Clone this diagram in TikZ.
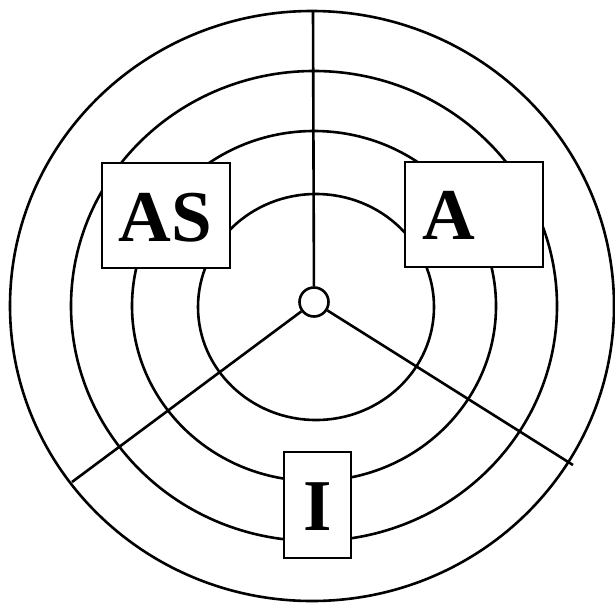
\documentclass[tikz,border=0pt]{standalone}
\usepackage{fontspec}
\setmainfont{Liberation Serif}
\begin{document}
\begin{tikzpicture}[x=1pt,y=-1pt,line width=2.6pt,
  ring/.style={draw=black,line width=2.6pt},
  spoke/.style={draw=black,line width=2.6pt},
  box/.style={draw=black,fill=white,line width=2.5pt,inner sep=0pt},
  hub/.style={circle,draw=black,fill=white,line width=2.6pt,inner sep=0pt,minimum size=29pt},
  lbl/.style={font=\fontsize{73}{73}\selectfont\bfseries,anchor=base,inner sep=0pt}]
\useasboundingbox (0,0) rectangle (615,602);
\fill[white] (0,0) rectangle (615,602);
% rings
\draw[ring] (312,306) ellipse [x radius=302, y radius=295];
\draw[ring] (314,306) ellipse [x radius=243, y radius=235];
\draw[ring] (314,306) ellipse [x radius=182, y radius=175];
\draw[ring] (316,307) ellipse [x radius=118, y radius=113];
% hub and spokes
\node[hub] (c) at (314,302) {};
\coordinate (top) at (313,11);
\coordinate (ll) at (72,482);
\coordinate (lr) at (573,465);
\draw[spoke] (c) -- (top);
\draw[spoke] (c) -- (ll);
\draw[spoke] (c) -- (lr);
% boxes
\node[box,minimum width=128pt,minimum height=105pt] (asbox) at (166,215.5) {};
\node[box,minimum width=138pt,minimum height=105pt] (abox) at (474,214.5) {};
\node[box,minimum width=67pt,minimum height=106pt] (ibox) at (317.5,505) {};
% labels
\node[lbl] (as) at (165,241.7) {AS};
\node[lbl] (a) at (449,239.3) {A};
\node[lbl] (i) at (317.5,530) {I};
\end{tikzpicture}
\end{document}
